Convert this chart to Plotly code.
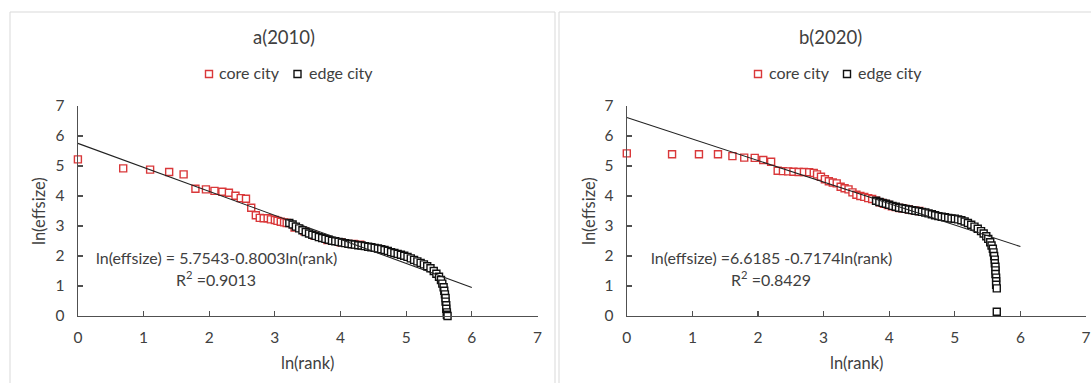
import plotly.graph_objects as go

# ---------------- data ----------------
panel_titles = ["a(2010)", "b(2020)"]
equations = ["ln(effsize) = 5.7543-0.8003ln(rank)", "ln(effsize) =6.6185 -0.7174ln(rank)"]
r2_labels = ["R<sup>2</sup> =0.9013", "R<sup>2</sup> =0.8429"]
intercepts = [5.7543, 6.6185]
slopes = [-0.8003, -0.7174]
trend_x = [0, 6]

core_x_2010 = [0, 0.69, 1.1, 1.39, 1.61, 1.79, 1.95, 2.08, 2.2, 2.3, 2.4, 2.48, 2.56, 2.64, 2.71,
               2.77, 2.83, 2.89, 2.94, 3.0, 3.04, 3.09, 3.14, 3.18, 3.3, 3.45, 3.6, 3.8, 4.0, 4.2, 4.3]
core_y_2010 = [5.22, 4.92, 4.88, 4.8, 4.72, 4.24, 4.22, 4.17, 4.14, 4.11, 4.01, 3.93, 3.91, 3.61, 3.36,
               3.27, 3.26, 3.26, 3.22, 3.2, 3.17, 3.14, 3.12, 3.1, 2.95, 2.82, 2.68, 2.53, 2.46, 2.4, 2.38]

edge_x_2010 = [3.22, 3.27, 3.32, 3.37, 3.42, 3.47, 3.52, 3.57, 3.62, 3.67, 3.72, 3.77, 3.82, 3.87, 3.92,
               3.97, 4.02, 4.07, 4.12, 4.17, 4.22, 4.27, 4.32, 4.37, 4.42, 4.47, 4.52, 4.57, 4.62, 4.67,
               4.72, 4.77, 4.82, 4.87, 4.92, 4.97, 5.02, 5.07, 5.12, 5.17, 5.22, 5.27, 5.32, 5.37, 5.42,
               5.46, 5.5, 5.53, 5.55, 5.57, 5.58, 5.59, 5.6, 5.6, 5.61, 5.61, 5.62, 5.62, 5.63]
edge_y_2010 = [3.1, 3.05, 2.98, 2.92, 2.86, 2.8, 2.75, 2.71, 2.67, 2.63, 2.6, 2.57, 2.54, 2.51, 2.49,
               2.47, 2.45, 2.43, 2.41, 2.39, 2.38, 2.36, 2.35, 2.33, 2.31, 2.29, 2.27, 2.25, 2.23, 2.2,
               2.17, 2.13, 2.1, 2.07, 2.04, 2.01, 1.97, 1.92, 1.87, 1.82, 1.77, 1.72, 1.66, 1.59, 1.5,
               1.41, 1.31, 1.2, 1.08, 0.96, 0.84, 0.72, 0.6, 0.48, 0.36, 0.24, 0.12, 0.04, 0.0]

core_x_2020 = [0, 0.69, 1.1, 1.39, 1.61, 1.79, 1.95, 2.08, 2.2, 2.3, 2.38, 2.46, 2.54, 2.62, 2.7, 2.78,
               2.85, 2.9, 2.96, 3.02, 3.08, 3.14, 3.2, 3.26, 3.32, 3.38, 3.44, 3.5, 3.56, 3.62, 3.68,
               3.74, 3.8, 3.86, 3.92, 3.98, 4.04, 4.1, 4.16, 4.22, 4.3, 4.38, 4.46]
core_y_2020 = [5.42, 5.39, 5.39, 5.39, 5.33, 5.28, 5.27, 5.2, 5.14, 4.84, 4.83, 4.82, 4.81, 4.8, 4.8, 4.79,
               4.77, 4.72, 4.64, 4.56, 4.49, 4.45, 4.42, 4.31, 4.26, 4.22, 4.12, 4.04, 4.0, 3.97, 3.93,
               3.9, 3.84, 3.79, 3.74, 3.7, 3.66, 3.63, 3.6, 3.58, 3.55, 3.52, 3.5]

edge_x_2020 = [3.8, 3.85, 3.9, 3.95, 4.0, 4.05, 4.1, 4.15, 4.2, 4.25, 4.3, 4.35, 4.4, 4.45, 4.5, 4.55,
               4.6, 4.65, 4.7, 4.75, 4.8, 4.85, 4.9, 4.95, 5.0, 5.05, 5.1, 5.15, 5.2, 5.25, 5.3, 5.35,
               5.4, 5.44, 5.48, 5.51, 5.54, 5.56, 5.58, 5.59, 5.6, 5.61, 5.61, 5.62, 5.62, 5.62, 5.63,
               5.63, 5.63, 5.64, 5.64]
edge_y_2020 = [3.84, 3.8, 3.77, 3.74, 3.71, 3.67, 3.64, 3.61, 3.59, 3.57, 3.55, 3.53, 3.51, 3.49, 3.47, 3.45,
               3.42, 3.39, 3.36, 3.33, 3.31, 3.29, 3.27, 3.25, 3.24, 3.22, 3.19, 3.15, 3.1, 3.04, 2.98, 2.91,
               2.83, 2.75, 2.66, 2.57, 2.46, 2.35, 2.24, 2.12, 2.0, 1.88, 1.76, 1.64, 1.52, 1.4, 1.28,
               1.16, 1.04, 0.92, 0.14]

tick_vals = [0, 1, 2, 3, 4, 5, 6, 7]
x_title = "ln(rank)"
y_title = "ln(effsize)"
series_names = ["core city", "edge city"]

# ---------------- styling ----------------
W, H = 1091, 383
FONT = "Lato, Open Sans, sans-serif"
TXT = "#404040"
RED = "#d9383a"
BLK = "#111111"
AX = "#505050"

panels = [
    dict(core=(core_x_2010, core_y_2010), edge=(edge_x_2010, edge_y_2010),
         px=(77.9, 537.5), box=(10, 555), center=284, eq_x=216, ylab_x=39, xlab_x=307,
         leg_marks=(209, 297.5), leg_text=(217, 307)),
    dict(core=(core_x_2020, core_y_2020), edge=(edge_x_2020, edge_y_2020),
         px=(626.8, 1086.0), box=(559, 1100), center=830, eq_x=771, ylab_x=589, xlab_x=856,
         leg_marks=(758, 847), leg_text=(767, 856)),
]
y_top_px, y_bot_px = 106, 316
legend_y_px = 74

fig = go.Figure()
shapes, annotations = [], []


def px_x(v):
    return v / W


def px_y(v):
    return 1 - v / H


for i, p in enumerate(panels):
    sfx = "" if i == 0 else str(i + 1)
    xa, ya = "x" + sfx, "y" + sfx
    fig.add_trace(go.Scatter(
        x=p["core"][0], y=p["core"][1], mode="markers", name=series_names[0],
        xaxis=xa, yaxis=ya, showlegend=False, cliponaxis=False,
        marker=dict(symbol="square", size=7, color="white", line=dict(color=RED, width=1.4))))
    fig.add_trace(go.Scatter(
        x=p["edge"][0], y=p["edge"][1], mode="markers", name=series_names[1],
        xaxis=xa, yaxis=ya, showlegend=False, cliponaxis=False,
        marker=dict(symbol="square", size=7, color="white", line=dict(color=BLK, width=1.4))))
    fig.add_trace(go.Scatter(
        x=trend_x, y=[intercepts[i] + slopes[i] * v for v in trend_x], mode="lines",
        xaxis=xa, yaxis=ya, showlegend=False, line=dict(color="#222222", width=1.1)))

    dom_x = [px_x(p["px"][0]), px_x(p["px"][1])]
    dom_y = [px_y(y_bot_px), px_y(y_top_px)]
    axis_common = dict(range=[0, 7], tickvals=tick_vals, ticks="inside", ticklen=5,
                       tickcolor=AX, tickwidth=1.2, showline=True, linecolor=AX, linewidth=1.3,
                       showgrid=False, zeroline=False, automargin=False,
                       tickfont=dict(family=FONT, size=15.5, color=TXT), fixedrange=True)
    fig.update_layout(**{
        "xaxis" + sfx: dict(domain=dom_x, anchor=ya, ticklabelstandoff=7, **axis_common),
        "yaxis" + sfx: dict(domain=dom_y, anchor=xa, ticklabelstandoff=9, **axis_common),
    })

    # panel border
    shapes.append(dict(type="rect", xref="paper", yref="paper", layer="below",
                       x0=px_x(p["box"][0]), x1=px_x(p["box"][1]), y0=-0.05, y1=px_y(12),
                       line=dict(color="#d9d9d9", width=1)))
    # legend (marker squares + labels)
    for k, col in enumerate([RED, BLK]):
        shapes.append(dict(type="rect", xref="paper", yref="paper",
                           xsizemode="pixel", ysizemode="pixel",
                           xanchor=px_x(p["leg_marks"][k]), yanchor=px_y(legend_y_px),
                           x0=-3.5, x1=3.5, y0=-3.5, y1=3.5,
                           line=dict(color=col, width=1.4), fillcolor="white"))
        annotations.append(dict(text=series_names[k], xref="paper", yref="paper", showarrow=False,
                                x=px_x(p["leg_text"][k]), y=px_y(legend_y_px - 1),
                                xanchor="left", yanchor="middle",
                                font=dict(family=FONT, size=16, color=TXT)))
    # title
    annotations.append(dict(text=panel_titles[i], xref="paper", yref="paper", showarrow=False,
                            x=px_x(p["center"]), y=px_y(37), xanchor="center", yanchor="middle",
                            font=dict(family=FONT, size=18.5, color=TXT)))
    # equation
    annotations.append(dict(text=equations[i], xref="paper", yref="paper", showarrow=False,
                            x=px_x(p["eq_x"]), y=px_y(257), xanchor="center", yanchor="middle",
                            font=dict(family=FONT, size=16, color=TXT)))
    annotations.append(dict(text=r2_labels[i], xref="paper", yref="paper", showarrow=False,
                            x=px_x(p["eq_x"]), y=px_y(278), xanchor="center", yanchor="middle",
                            font=dict(family=FONT, size=16, color=TXT)))
    # axis titles
    annotations.append(dict(text=x_title, xref="paper", yref="paper", showarrow=False,
                            x=px_x(p["xlab_x"]), y=px_y(363), xanchor="center", yanchor="middle",
                            font=dict(family=FONT, size=16.5, color=TXT)))
    annotations.append(dict(text=y_title, xref="paper", yref="paper", showarrow=False, textangle=-90,
                            x=px_x(p["ylab_x"]), y=px_y(211), xanchor="center", yanchor="middle",
                            font=dict(family=FONT, size=16.5, color=TXT)))

fig.update_layout(
    width=W, height=H, margin=dict(l=0, r=0, t=0, b=0, autoexpand=False),
    paper_bgcolor="white", plot_bgcolor="white", showlegend=False,
    shapes=shapes, annotations=annotations,
)

fig.write_html("out.html", config={"displayModeBar": False, "staticPlot": True},
               post_script="document.body.style.margin='0';document.body.style.overflow='hidden';")
